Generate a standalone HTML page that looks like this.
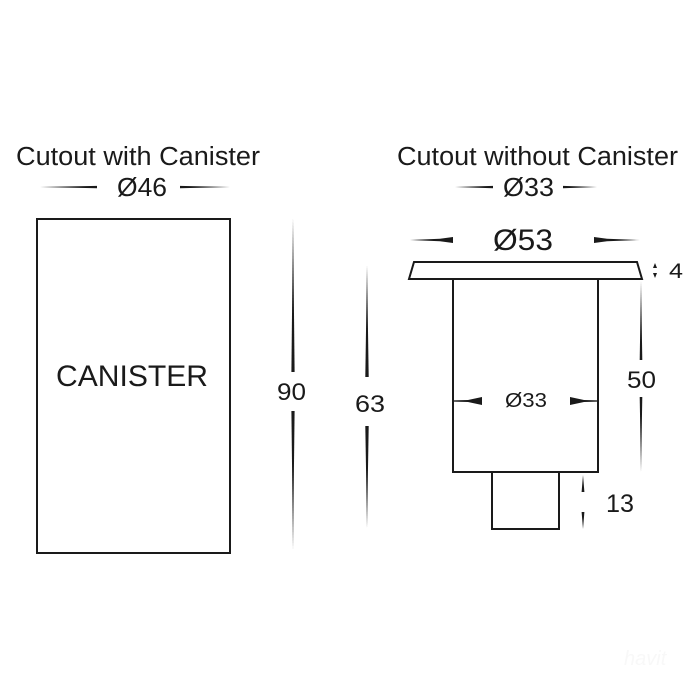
<!DOCTYPE html>
<html>
<head>
<meta charset="utf-8">
<style>
  html,body{margin:0;padding:0;background:#fff;}
  svg{display:block;}
  text{font-family:"Liberation Sans",Arial,sans-serif;fill:#1a1a1a;}
</style>
</head>
<body>
<svg width="700" height="700" viewBox="0 0 700 700" xmlns="http://www.w3.org/2000/svg">
  <rect width="700" height="700" fill="#fff"/>

  <!-- Titles -->
  <text x="16" y="165" font-size="25.5" textLength="244" lengthAdjust="spacingAndGlyphs">Cutout with Canister</text>
  <text x="397" y="165" font-size="25.5" textLength="281" lengthAdjust="spacingAndGlyphs">Cutout without Canister</text>

  <!-- Ø46 -->
  <text x="117" y="196" font-size="25.5" textLength="50" lengthAdjust="spacingAndGlyphs">Ø46</text>
  <polygon points="40,187 97,185.9 97,188.3" fill="#1a1a1a"/>
  <polygon points="180,185.9 180,188.3 230,187" fill="#1a1a1a"/>

  <!-- Ø33 top -->
  <text x="503" y="196" font-size="25.5" textLength="51" lengthAdjust="spacingAndGlyphs">Ø33</text>
  <polygon points="455,187 493,185.9 493,188.3" fill="#1a1a1a"/>
  <polygon points="563,185.9 563,188.3 597,187" fill="#1a1a1a"/>

  <!-- Canister box -->
  <rect x="37" y="219" width="193" height="334" fill="none" stroke="#1a1a1a" stroke-width="2"/>
  <text x="56" y="386" font-size="30" textLength="152" lengthAdjust="spacingAndGlyphs">CANISTER</text>

  <!-- 90 dim -->
  <polygon points="293,218 294.6,372 291.4,372" fill="#1a1a1a"/>
  <polygon points="291.4,411 294.6,411 293,550" fill="#1a1a1a"/>
  <text x="277" y="400" font-size="24" textLength="29" lengthAdjust="spacingAndGlyphs">90</text>

  <!-- 63 dim -->
  <polygon points="367,265 368.7,377 365.3,377" fill="#1a1a1a"/>
  <polygon points="365.3,426 368.7,426 367,528" fill="#1a1a1a"/>
  <text x="355" y="412" font-size="24" textLength="30" lengthAdjust="spacingAndGlyphs">63</text>

  <!-- Ø53 -->
  <text x="493" y="250" font-size="30" textLength="60" lengthAdjust="spacingAndGlyphs">Ø53</text>
  <polygon points="410,240 440,238.8 453,237 453,243 440,241.2" fill="#1a1a1a"/>
  <polygon points="594,237 607,238.8 640,240 607,241.2 594,243" fill="#1a1a1a"/>

  <!-- Flange -->
  <polygon points="414,262 637,262 642,279 409,279" fill="none" stroke="#1a1a1a" stroke-width="2" stroke-linejoin="miter"/>

  <!-- 4 dim -->
  <polygon points="655,263 657,268 653,268" fill="#1a1a1a"/>
  <polygon points="653,273 657,273 655,278" fill="#1a1a1a"/>
  <text x="669" y="278" font-size="21" textLength="14" lengthAdjust="spacingAndGlyphs">4</text>

  <!-- Body -->
  <polyline points="453,279 453,472 598,472 598,279" fill="none" stroke="#1a1a1a" stroke-width="2"/>
  <!-- Bottom part -->
  <polyline points="492,472 492,529 559,529 559,472" fill="none" stroke="#1a1a1a" stroke-width="2"/>

  <!-- inner Ø33 -->
  <polygon points="453,400.4 468,400 482,397 482,405 468,402 453,401.6" fill="#1a1a1a"/>
  <polygon points="570,397 584,400 598,400.4 598,401.6 584,402 570,405" fill="#1a1a1a"/>
  <text x="505" y="407" font-size="20" textLength="42" lengthAdjust="spacingAndGlyphs">Ø33</text>

  <!-- 50 dim -->
  <polygon points="641,281 642.3,360 639.7,360" fill="#1a1a1a"/>
  <polygon points="639.7,397 642.3,397 641,472" fill="#1a1a1a"/>
  <text x="627" y="388" font-size="24" textLength="29" lengthAdjust="spacingAndGlyphs">50</text>

  <!-- 13 dim -->
  <polygon points="583,475 584.4,492 581.6,492" fill="#1a1a1a"/>
  <polygon points="581.6,512 584.4,512 583,529" fill="#1a1a1a"/>
  <text x="606" y="512" font-size="25" textLength="28" lengthAdjust="spacingAndGlyphs">13</text>

  <!-- faint watermark -->
  <text x="624" y="665" font-size="20" font-style="italic" style="fill:#f8f8f8">havit</text>
</svg>
</body>
</html>
